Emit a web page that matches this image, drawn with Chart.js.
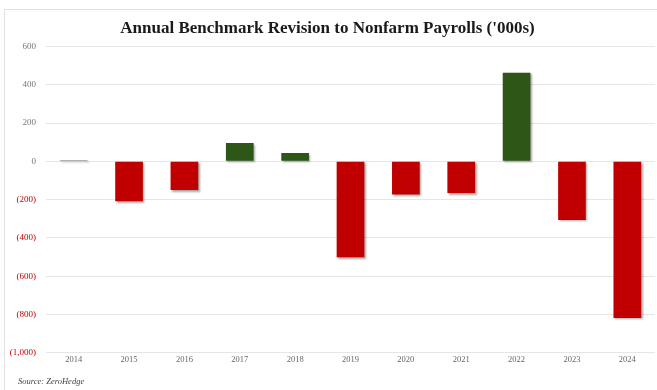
<!DOCTYPE html>
<html>
<head>
<meta charset="utf-8">
<script src="https://cdn.jsdelivr.net/npm/chart.js@4"></script>
<style>
  html, body { margin: 0; padding: 0; background: #fff; }
  #wrap { position: relative; width: 657px; height: 390px; overflow: hidden; }
  #frame { position: absolute; left: 4px; top: 9px; width: 700px; height: 400px; border-left: 1px solid #e2e2e2; border-top: 1px solid #e2e2e2; }
  #src { position: absolute; left: 18px; top: 376px; font: italic 8.5px "Liberation Serif", serif; color: #444; }
  canvas { position: absolute; left: 0; top: 0; }
</style>
</head>
<body>
<div id="wrap">
  <div id="frame"></div>
  <canvas id="c" width="657" height="390"></canvas>
  <div id="src">Source: ZeroHedge</div>
</div>
<script>
const years = ["2014","2015","2016","2017","2018","2019","2020","2021","2022","2023","2024"];
const revisions = [7, -208, -150, 95, 43, -501, -173, -166, 462, -306, -818];
const yTicks = [600, 400, 200, 0, -200, -400, -600, -800, -1000];

const RED = "#c00000", GREEN = "#2d5617", GRAY = "#999999";
const barColors = revisions.map(v => Math.abs(v) < 20 ? GRAY : (v > 0 ? GREEN : RED));

function fmt(v) {
  const s = Math.abs(v).toLocaleString("en-US");
  return v < 0 ? "(" + s + ")" : s;
}

const shadowPlugin = {
  id: "shadow",
  beforeDatasetsDraw(chart) {
    const ctx = chart.ctx;
    ctx.save();
    ctx.shadowColor = "rgba(0,0,0,0.35)";
    ctx.shadowBlur = 2;
    ctx.shadowOffsetX = 1.5;
    ctx.shadowOffsetY = 1.5;
  },
  afterDatasetsDraw(chart) { chart.ctx.restore(); }
};

new Chart(document.getElementById("c"), {
  type: "bar",
  data: {
    labels: years,
    datasets: [{
      data: revisions,
      backgroundColor: barColors,
      borderWidth: 0,
      categoryPercentage: 1.0,
      barPercentage: 0.5
    }]
  },
  options: {
    responsive: false,
    animation: false,
    devicePixelRatio: 1,
    layout: { padding: { left: 0, right: 2, top: 0, bottom: 23 } },
    plugins: {
      legend: { display: false },
      tooltip: { enabled: false },
      title: {
        display: true,
        text: "Annual Benchmark Revision to Nonfarm Payrolls ('000s)",
        font: { family: "Liberation Serif", size: 17, weight: "bold" },
        color: "#1a1a1a",
        padding: { top: 18, bottom: 8 }
      }
    },
    scales: {
      x: {
        grid: { display: false, drawTicks: false },
        border: { display: false },
        ticks: {
          font: { family: "Liberation Serif", size: 8.5 },
          color: "#666",
          padding: 2,
          maxRotation: 0
        }
      },
      y: {
        min: -1000,
        max: 600,
        afterFit(scale) { scale.width = 46; },
        afterBuildTicks(scale) { scale.ticks = yTicks.map(v => ({ value: v })); },
        grid: { color: "#e6e6e6", lineWidth: 1, drawTicks: false },
        border: { display: false },
        ticks: {
          font: { family: "Liberation Serif", size: 9 },
          color: ctx => ctx.tick.value < 0 ? RED : "#777",
          padding: 10,
          callback: v => fmt(v)
        }
      }
    }
  },
  plugins: [shadowPlugin]
});
</script>
</body>
</html>
